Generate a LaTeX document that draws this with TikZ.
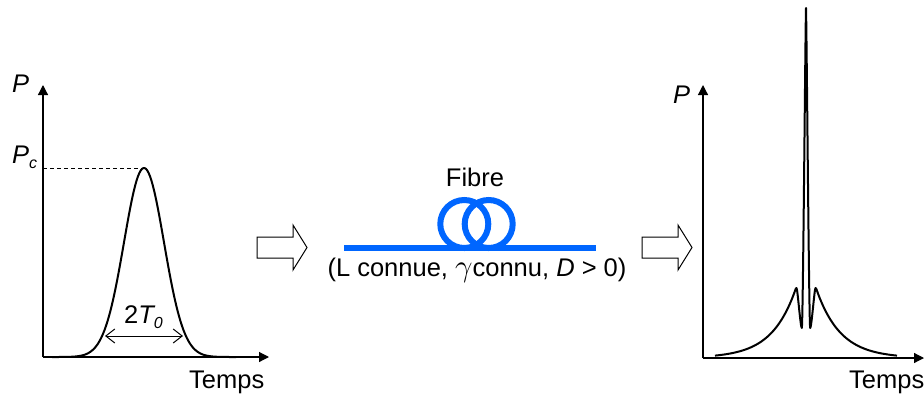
\documentclass[tikz,border=0pt]{standalone}
\usepackage{fontspec}
\setmainfont{Liberation Sans}
\usetikzlibrary{arrows.meta}
\definecolor{fibreblue}{RGB}{0,102,255}
\newcommand\mysub[1]{\raisebox{-5.5pt}{\fontsize{16}{17}\selectfont #1}}
\begin{document}
\begin{tikzpicture}[x=1pt,y=-1pt,
  axis/.style={line width=1.2pt,-{Triangle[length=10pt,width=10pt]}},
  curve/.style={line width=2pt,line join=round},
  lbl/.style={inner sep=0pt,font=\fontsize{25.5}{29}\selectfont},
  blockarrow/.style={draw=black,line width=1pt,fill=white,line join=miter},
  fibre/.style={draw=fibreblue,line width=6pt},
  widtharrow/.style={line width=1pt,{Straight Barb[length=9pt,width=14pt]}-{Straight Barb[length=9pt,width=14pt]}}]
\fill[white] (0,0) rectangle (924,400);
\useasboundingbox (0,0) rectangle (924,400);

% left graph
\coordinate (o1) at (43,357);
\coordinate (y1) at (43,85);
\coordinate (x1) at (269,357);
\draw[axis] (o1) -- (y1);
\draw[axis] (o1) -- (x1);
\coordinate (pcl) at (43,168);
\coordinate (pk) at (144,168);
\draw[line width=1pt,dash pattern=on 4pt off 3pt] (pcl) -- (pk);
\draw[curve] plot[domain=-92:92,samples=140] ({144+\x},{357-189*exp(-\x*\x/800)});
\coordinate (wl) at (105,336);
\coordinate (wr) at (183,336);
\draw[widtharrow] (wl) -- (wr);

\node[lbl,anchor=base west] (p1) at (12,92) {\itshape P};
\node[lbl,anchor=base west] (pc) at (12,163) {\itshape P\mysub{c}};
\node[lbl,anchor=base west] (t0) at (124,323) {2\itshape T\mysub{0}};
\node[lbl,anchor=base west] (temps1) at (189,388) {Temps};

% block arrows
\draw[blockarrow] (257,237) -- (293,237) -- (293,225) -- (307,247.5) -- (293,270) -- (293,258) -- (257,258) -- cycle;
\draw[blockarrow] (642,237) -- (678,237) -- (678,225) -- (692,247.5) -- (678,270) -- (678,258) -- (642,258) -- cycle;

% fibre
\coordinate (fa) at (344,248);
\coordinate (fb) at (596,248);
\draw[fibre] (fa) -- (fb);
\draw[fibre] (464.3,224) circle[radius=24];
\draw[fibre] (488.7,224) circle[radius=24];
\node[lbl,anchor=base] (fibrelbl) at (475,186) {Fibre};
\node[lbl,anchor=base] (params) at (477,276) {(L connue, \scalebox{1.25}{$\gamma$}connu, {\itshape D} > 0)};

% right graph
\coordinate (o2) at (703,358);
\coordinate (y2) at (703,85);
\coordinate (x2) at (924,358);
\draw[axis] (o2) -- (y2);
\draw[axis] (o2) -- (x2);
\draw[curve] plot[domain=-91:-12,samples=60] ({806+\x},{358-70*exp((\x+10)/24)})
  .. controls (794.7,291.7) and (795.7,288) .. (796.5,288)
  .. controls (797.5,288) and (800.5,328) .. (801.8,328)
  .. controls (803,328) and (805.3,30) .. (806,8)
  .. controls (806.7,30) and (809,328) .. (810.2,328)
  .. controls (811.5,328) and (814.5,288) .. (815.5,288)
  .. controls (816.3,288) and (817.3,291.7) .. (818,293.6)
  -- plot[domain=12:91,samples=60] ({806+\x},{358-70*exp((10-\x)/24)});
\node[lbl,anchor=base west] (p2) at (673,103) {\itshape P};
\node[lbl,anchor=base west] (temps2) at (849,388) {Temps};
\end{tikzpicture}
\end{document}
